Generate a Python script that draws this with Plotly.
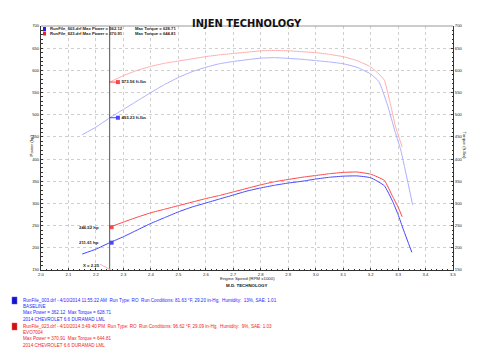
import plotly.graph_objects as go

# ---------------- data ----------------
rpm_pow_003 = [2.15, 2.20, 2.25, 2.30, 2.35, 2.40, 2.45, 2.50, 2.55, 2.60, 2.65, 2.70, 2.75, 2.80,
               2.85, 2.90, 2.95, 3.00, 3.05, 3.10, 3.15, 3.20, 3.25, 3.28, 3.30, 3.32, 3.35]
pow_003 = [186, 197, 211.6, 225, 240, 255, 268, 281, 292, 301, 310, 319, 328, 335,
           341, 346, 350, 355, 359, 361.5, 362.1, 358, 340, 305, 275, 240, 190]

rpm_pow_023 = [2.25, 2.30, 2.35, 2.40, 2.45, 2.50, 2.55, 2.60, 2.65, 2.70, 2.75, 2.80, 2.85, 2.90,
               2.95, 3.00, 3.05, 3.10, 3.15, 3.20, 3.25, 3.28, 3.30, 3.315]
pow_023 = [246.5, 258, 269, 279, 287, 295, 303, 311, 318, 326, 334, 342, 349, 354,
           359, 363, 367, 370, 370.9, 366, 352, 316, 292, 270]

rpm_tq_003 = [2.15, 2.20, 2.25, 2.30, 2.35, 2.40, 2.45, 2.50, 2.55, 2.60, 2.65, 2.70, 2.75, 2.80,
              2.85, 2.90, 2.95, 3.00, 3.05, 3.10, 3.15, 3.20, 3.23, 3.26, 3.29, 3.31, 3.353]
tq_003 = [455, 472, 493, 512, 531, 550, 568, 584, 597, 607, 615, 620, 624, 627.5,
          628.7, 627, 625, 622, 619, 615, 607, 592, 575, 525, 460, 420, 297]

rpm_tq_023 = [2.25, 2.30, 2.35, 2.40, 2.45, 2.50, 2.55, 2.60, 2.65, 2.70, 2.75, 2.80, 2.85, 2.90,
              2.95, 3.00, 3.05, 3.10, 3.15, 3.20, 3.23, 3.25, 3.27, 3.29, 3.315]
tq_023 = [573.6, 588, 600, 609, 616, 621, 626, 631, 635, 638, 641, 644, 644.8, 644,
          642, 640, 636, 631, 622, 608, 592, 578, 530, 475, 427]

cursor_x = 2.25
cursor_tq = [573.56, 493.23]
cursor_pow = [246.52, 211.61]

x_ticks = [2.0, 2.1, 2.2, 2.3, 2.4, 2.5, 2.6, 2.7, 2.8, 2.9, 3.0, 3.1, 3.2, 3.3, 3.4, 3.5]
y_ticks = [150, 200, 250, 300, 350, 400, 450, 500, 550, 600, 650, 700]

legend_top = [
    ("RunFile_003.drf Max Power = 362.12", "Max Torque = 628.71"),
    ("RunFile_023.drf Max Power = 370.91", "Max Torque = 644.81"),
]
bottom_blue = [
    "RunFile_003.drf - 4/10/2014 11:55:22 AM  Run Type: RO  Run Conditions: 81.63 °F, 29.20 in-Hg,  Humidity:  13%, SAE: 1.01",
    "BASELINE",
    "Max Power = 362.12  Max Torque = 628.71",
    "2014 CHEVROLET 6.6 DURAMAD LML",
]
bottom_red = [
    "RunFile_023.drf - 4/10/2014 3:49:40 PM  Run Type: RO  Run Conditions: 96.62 °F, 29.09 in-Hg,  Humidity:  9%, SAE: 1.03",
    "EVO7004",
    "Max Power = 370.91  Max Torque = 644.81",
    "2014 CHEVROLET 6.6 DURAMAD LML",
]

BLUE = "rgb(70,70,255)"
RED = "rgb(255,70,70)"
LBLUE = "rgb(175,175,255)"
LRED = "rgb(255,175,175)"
FONT = "Liberation Sans, Arial, sans-serif"

W, H = 480, 358
ML, MR, MT, MB = 33, 35, 18, 96
PW, PH = W - ML - MR, H - MT - MB


def px(xp):
    return (xp - ML) / PW


def py(yp):
    return (H - MB - yp) / PH


fig = go.Figure()

line_style = dict(width=1, shape="spline", smoothing=0.4)
fig.add_trace(go.Scatter(x=rpm_tq_003, y=tq_003, mode="lines", yaxis="y2",
                         line=dict(color=LBLUE, **line_style)))
fig.add_trace(go.Scatter(x=rpm_tq_023, y=tq_023, mode="lines", yaxis="y2",
                         line=dict(color=LRED, **line_style)))
fig.add_trace(go.Scatter(x=rpm_pow_003, y=pow_003, mode="lines",
                         line=dict(color=BLUE, **line_style)))
fig.add_trace(go.Scatter(x=rpm_pow_023, y=pow_023, mode="lines",
                         line=dict(color=RED, **line_style)))

# cursor torque markers (offset to the right with leader)
tq_cols = [RED, BLUE]
for v, c in zip(cursor_tq, tq_cols):
    fig.add_trace(go.Scatter(x=[cursor_x, cursor_x + 0.03], y=[v, v], mode="lines", yaxis="y2",
                             line=dict(color=c, width=1)))
    fig.add_trace(go.Scatter(x=[cursor_x + 0.03], y=[v], mode="markers+text", yaxis="y2",
                             marker=dict(color=c, size=4, symbol="square"),
                             text=[f"<b>{v:.2f} ft-lbs</b>"], textposition="middle right",
                             textfont=dict(size=4.3, color="#222", family=FONT)))
for v, c in zip(cursor_pow, tq_cols):
    fig.add_trace(go.Scatter(x=[cursor_x + 0.007], y=[v], mode="markers",
                             marker=dict(color=c, size=4, symbol="square")))
    fig.add_annotation(x=cursor_x - 0.03, y=v, text=f"<b>{v:.2f} hp</b>", showarrow=False,
                       xanchor="right", yanchor="middle",
                       font=dict(size=4.3, color="#222", family=FONT))

fig.add_annotation(x=2.184, y=161, text="<b>X = 2.25</b>", showarrow=False,
                   font=dict(size=4.3, color="#222", family=FONT))

shapes = [
    dict(type="line", xref="x", yref="y", x0=cursor_x, x1=cursor_x, y0=150, y1=700,
         line=dict(color="#555", width=1)),
    dict(type="line", xref="x", yref="y", x0=2.215, x1=2.255, y0=163, y1=150,
         line=dict(color=LRED, width=1)),
    dict(type="line", xref="paper", yref="paper", x0=0, x1=1, y0=1, y1=1,
         line=dict(color="#999", width=1)),
    # top legend squares
    dict(type="rect", xref="paper", yref="paper", x0=px(35), x1=px(38), y0=py(23), y1=py(19),
         fillcolor="rgb(30,30,255)", line=dict(width=0)),
    dict(type="rect", xref="paper", yref="paper", x0=px(35), x1=px(38), y0=py(27.5), y1=py(23.5),
         fillcolor="rgb(240,30,30)", line=dict(width=0)),
    # bottom legend squares
    dict(type="rect", xref="paper", yref="paper", x0=px(4), x1=px(9), y0=py(296), y1=py(289),
         fillcolor="rgb(20,20,200)", line=dict(color="rgb(80,80,255)", width=0.5)),
    dict(type="rect", xref="paper", yref="paper", x0=px(4), x1=px(9), y0=py(322), y1=py(315),
         fillcolor="rgb(200,20,20)", line=dict(color="rgb(255,80,80)", width=0.5)),
]

# top legend text
for i, (a, b) in enumerate(legend_top):
    yy = 21 + i * 4.6
    fig.add_annotation(xref="paper", yref="paper", x=px(40), y=py(yy), text=f"<b>{a}</b>", showarrow=False,
                       xanchor="left", yanchor="middle", font=dict(size=4.2, color="#222", family=FONT))
    fig.add_annotation(xref="paper", yref="paper", x=px(125), y=py(yy), text=f"<b>{b}</b>", showarrow=False,
                       xanchor="left", yanchor="middle", font=dict(size=4.2, color="#222", family=FONT))

# bottom text block
for i, t in enumerate(bottom_blue):
    fig.add_annotation(xref="paper", yref="paper", x=px(13), y=py(292 + i * 6.4), text=t,
                       showarrow=False, xanchor="left", yanchor="middle",
                       font=dict(size=4.6, color="rgb(40,40,255)", family=FONT))
for i, t in enumerate(bottom_red):
    fig.add_annotation(xref="paper", yref="paper", x=px(13), y=py(318 + i * 6.4), text=t,
                       showarrow=False, xanchor="left", yanchor="middle",
                       font=dict(size=4.6, color="rgb(240,30,30)", family=FONT))

# titles
fig.add_annotation(xref="paper", yref="paper", x=px(239), y=py(7), text="<b>INJEN TECHNOLOGY</b>",
                   showarrow=False, font=dict(size=11, color="#111", family="DejaVu Sans Condensed, DejaVu Sans"))
fig.add_annotation(xref="paper", yref="paper", x=px(239), y=py(275), text="Engine Speed (RPM x1000)",
                   showarrow=False, font=dict(size=4.4, color="#222", family=FONT))
fig.add_annotation(xref="paper", yref="paper", x=px(239), y=py(281.5), text="<b>M.D. TECHNOLOGY</b>",
                   showarrow=False, font=dict(size=4.4, color="#111", family=FONT))
fig.add_annotation(xref="paper", yref="paper", x=px(18), y=py(138), text="Power (hp)", textangle=-90,
                   showarrow=False, font=dict(size=4.4, color="#222", family=FONT))
fig.add_annotation(xref="paper", yref="paper", x=px(461), y=py(137), text="Torque (ft-lbs)", textangle=90,
                   showarrow=False, font=dict(size=4.4, color="#222", family=FONT))

axis_common = dict(showline=True, linecolor="#333", linewidth=1, ticks="inside", ticklen=2,
                   tickcolor="#333", tickfont=dict(size=4.2, color="#222", family=FONT), zeroline=False)

fig.update_layout(
    width=W, height=H, margin=dict(l=ML, r=MR, t=MT, b=MB),
    paper_bgcolor="white", plot_bgcolor="white", showlegend=False,
    shapes=shapes,
    xaxis=dict(range=[2.0, 3.5], tickvals=x_ticks, ticktext=[f"{v:.1f}" for v in x_ticks],
               showgrid=True, gridcolor="#cfcfcf", griddash="dot", gridwidth=1,
               minor=dict(ticks="inside", ticklen=1.5, dtick=0.02, tickcolor="#333", showgrid=False),
               **axis_common),
    yaxis=dict(range=[150, 700], tickvals=y_ticks, showgrid=True, gridcolor="#cfcfcf", griddash="dot",
               gridwidth=1, minor=dict(ticks="inside", ticklen=1.5, dtick=10, tickcolor="#333", showgrid=False),
               **axis_common),
    yaxis2=dict(range=[150, 700], tickvals=y_ticks, overlaying="y", side="right", showgrid=False,
                minor=dict(ticks="inside", ticklen=1.5, dtick=10, tickcolor="#333", showgrid=False),
                **axis_common),
)

fig.write_html("out.html")
